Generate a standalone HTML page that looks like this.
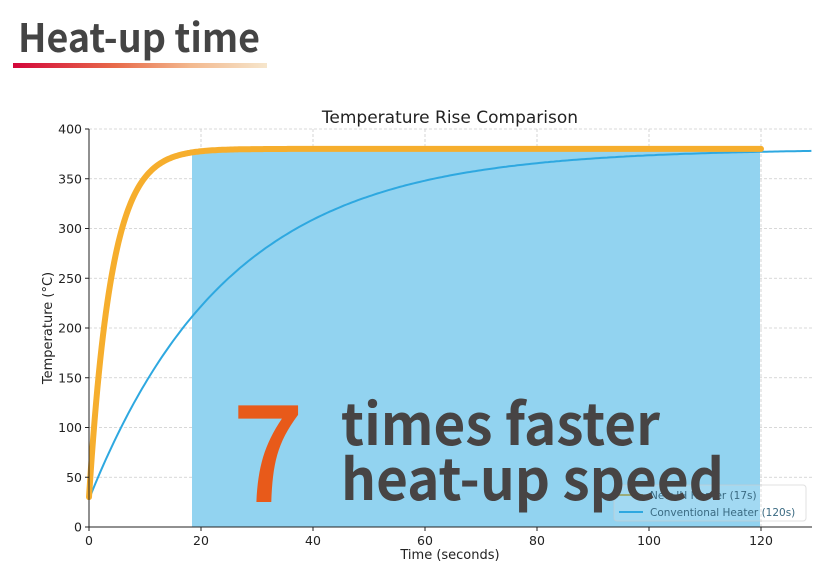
<!DOCTYPE html>
<html><head><meta charset="utf-8">
<style>
html,body{margin:0;padding:0;background:#fff;}
body{width:830px;height:572px;overflow:hidden;position:relative;}
svg{position:absolute;left:0;top:0;}
</style></head>
<body>
<svg width="830" height="572" viewBox="0 0 830 572" font-family="'DejaVu Sans', sans-serif">
<defs>
<linearGradient id="g" x1="0" x2="1"><stop offset="0" stop-color="#d3063a"/><stop offset="0.4" stop-color="#e86a4a"/><stop offset="0.7" stop-color="#f3b98f"/><stop offset="1" stop-color="#f6e6cc"/></linearGradient>
</defs>
<text x="18" y="52" font-family="'Noto Sans CJK JP',sans-serif" font-weight="bold" font-size="39" fill="#444" textLength="242" lengthAdjust="spacingAndGlyphs">Heat-up time</text>
<rect x="13" y="63" width="254" height="5" fill="url(#g)"/>
<text x="450" y="123" text-anchor="middle" font-size="17" fill="#222">Temperature Rise Comparison</text>
<g id="grid" stroke="#ccc" stroke-width="0.8" stroke-dasharray="3,2"></g>
<rect x="192" y="150" width="568" height="377" fill="#92d3f0"/>
<path id="blue" fill="none" stroke="#2ea8e0" stroke-width="2"/>
<path id="orange" fill="none" stroke="#f6ae2d" stroke-width="6" stroke-linecap="round"/>
<line x1="89" y1="129" x2="89" y2="527" stroke="#222" stroke-width="1"/>
<line x1="89" y1="527" x2="812" y2="527" stroke="#222" stroke-width="1"/>
<g id="ticks" font-size="12.5" fill="#222"></g>
<text x="450" y="559" text-anchor="middle" font-size="13" fill="#222">Time (seconds)</text>
<text transform="translate(52,328) rotate(-90)" text-anchor="middle" font-size="13" fill="#222">Temperature (°C)</text>
<rect x="614" y="485" width="192" height="36" rx="3" fill="#fff" fill-opacity="0.15" stroke="#ccc" stroke-opacity="0.6"/>
<line x1="619" y1="495" x2="643" y2="495" stroke="#9aab7a" stroke-width="2"/>
<text x="650" y="499" font-size="10.5" fill="#3a6a82">New IH Heater (17s)</text>
<line x1="619" y1="512" x2="643" y2="512" stroke="#2ea8e0" stroke-width="2"/>
<text x="650" y="516" font-size="10.5" fill="#3a6a82">Conventional Heater (120s)</text>
<text x="232" y="502" font-family="'Noto Sans CJK JP',sans-serif" font-weight="500" font-size="135" fill="#e85a1a" textLength="72" lengthAdjust="spacingAndGlyphs">7</text>
<text x="341" y="445" font-family="'Noto Sans CJK JP',sans-serif" font-weight="bold" font-size="57" fill="#474444" textLength="319" lengthAdjust="spacingAndGlyphs">times faster</text>
<text x="341" y="500" font-family="'Noto Sans CJK JP',sans-serif" font-weight="bold" font-size="57" fill="#474444" textLength="383" lengthAdjust="spacingAndGlyphs">heat-up speed</text>
</svg>
<script>
var X=function(t){return 89+t*5.6;},Y=function(v){return 527-v*0.995;};
var ns="http://www.w3.org/2000/svg";
var grid=document.getElementById('grid'),ticks=document.getElementById('ticks');
function el(p,n,a,txt){var e=document.createElementNS(ns,n);for(var k in a)e.setAttribute(k,a[k]);if(txt!==undefined)e.textContent=txt;p.appendChild(e);return e;}
for(var t=20;t<=120;t+=20)el(grid,'line',{x1:X(t),y1:129,x2:X(t),y2:527});
for(var v=50;v<=400;v+=50)el(grid,'line',{x1:89,y1:Y(v),x2:812,y2:Y(v)});
for(var t=0;t<=120;t+=20){el(ticks,'line',{x1:X(t),y1:527,x2:X(t),y2:531,stroke:'#222'});el(ticks,'text',{x:X(t),y:545,'text-anchor':'middle'},String(t));}
for(var v=0;v<=400;v+=50){el(ticks,'line',{x1:85,y1:Y(v),x2:89,y2:Y(v),stroke:'#222'});el(ticks,'text',{x:82,y:Y(v)+4.5,'text-anchor':'end'},String(v));}
var d='';for(var t=0;t<=129.3;t+=0.5){d+=(t?'L':'M')+X(t).toFixed(1)+','+Y(380-352*Math.exp(-t/25)).toFixed(1);}
document.getElementById('blue').setAttribute('d',d);
d='';for(var t=0;t<=120;t+=0.25){d+=(t?'L':'M')+X(t).toFixed(1)+','+Y(380-350*Math.exp(-t/4)).toFixed(1);}
document.getElementById('orange').setAttribute('d',d);
</script>
</body></html>
